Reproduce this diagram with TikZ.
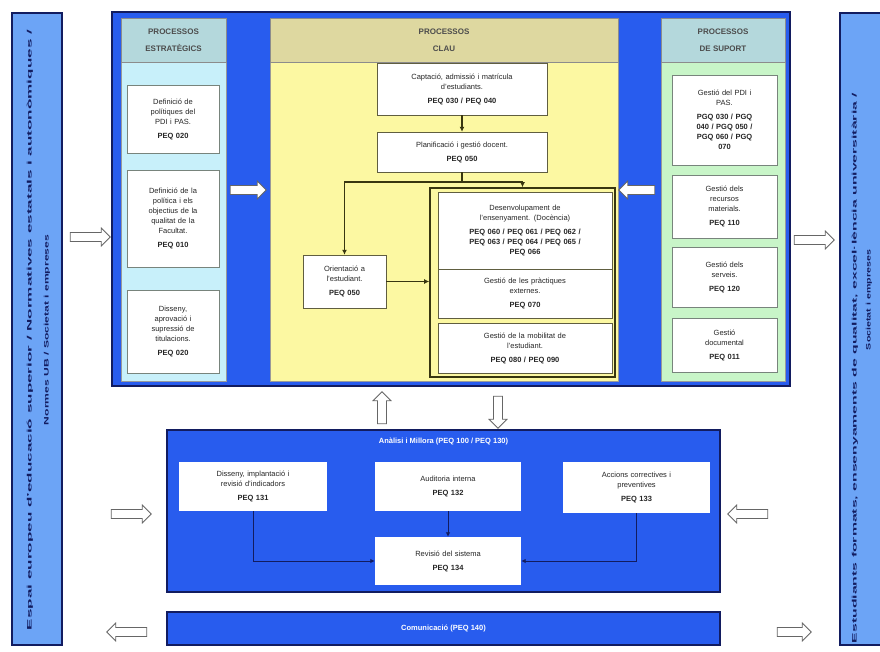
\documentclass[tikz,border=0pt]{standalone}
\usepackage{fontspec}
\setmainfont{Liberation Sans}
\usepackage{graphicx}
\usetikzlibrary{arrows.meta,positioning,shapes.arrows,calc}

\definecolor{mainblue}{RGB}{40,92,238}
\definecolor{navy}{RGB}{18,28,96}
\definecolor{sideblue}{RGB}{108,164,246}
\definecolor{estrbg}{RGB}{200,240,250}
\definecolor{hdrbg}{RGB}{180,216,220}
\definecolor{claubg}{RGB}{252,248,162}
\definecolor{clauhdr}{RGB}{222,216,160}
\definecolor{suportbg}{RGB}{200,245,200}
\definecolor{boxgray}{RGB}{120,132,124}
\definecolor{olive}{RGB}{56,54,16}

\begin{document}
\begin{tikzpicture}[x=1pt,y=-1pt,
panel/.style={draw=navy,line width=1.2pt,inner sep=0pt},
colbg/.style={draw=black!40,inner sep=0pt},
colhdr/.style={draw=black!45,font=\fontsize{8}{17}\selectfont\bfseries,text=black!70,align=center,inner sep=0pt},
item/.style={draw=boxgray,fill=white,align=center,font=\fontsize{7.5}{10}\selectfont,inner sep=1pt,text=black!85},
claubox/.style={item,draw=olive!80},
millbox/.style={item,draw=none},
cline/.style={draw=olive,line width=1.5pt,-{Latex[length=5pt,width=5pt]}},
bline/.style={draw=navy,line width=0.8pt,-{Latex[length=4.5pt,width=4.5pt]}},
flow/.style={single arrow,draw=black!60,fill=white,line width=0.8pt,minimum height=36pt,minimum width=18pt,single arrow head extend=4.5pt,single arrow head indent=0pt,inner sep=4pt},
sidetxt/.style={font=\fontsize{6.5}{8}\selectfont\bfseries,text=navy,rotate=90,inner sep=0pt}
]
\useasboundingbox (0,0) rectangle (880,652);
\clip (0,0) rectangle (880,652);
\fill[white] (0,0) rectangle (880,652);

% side bars
\node[panel,fill=sideblue,minimum width=50pt,minimum height=632pt] (entrada) at (37,329) {};
\node[sidetxt] (entrada1) at (30,330) {\resizebox{600pt}{\height}{Espai europeu d'educació superior / Normatives estatals i autonòmiques /}};
\node[sidetxt] (entrada2) at (47,330) {\resizebox{190pt}{\height}{Normes UB / Societat i empreses}};
\node[panel,fill=sideblue,minimum width=52pt,minimum height=632pt] (sortida) at (866,329) {};
\node[sidetxt] (sortida1) at (855,368) {\resizebox{550pt}{\height}{Estudiants formats, ensenyaments de qualitat, excel·lència universitària /}};
\node[sidetxt] (sortida2) at (869,300) {\resizebox{100pt}{\height}{Societat i empreses}};

% upper panel
\node[panel,fill=mainblue,minimum width=678pt,minimum height=374pt] (mapa) at (451,199) {};

% processos estrategics
\node[colbg,fill=estrbg,minimum width=105pt,minimum height=363pt] (estr) at (173.5,199.5) {};
\node[colhdr,fill=hdrbg,minimum width=105pt,minimum height=44pt] (estrh) at (173.5,40) {PROCESSOS\\ESTRATÈGICS};
\node[item,minimum width=92pt,minimum height=68pt,text width=88pt] (politiques) at (173,119) {Definició de\\polítiques del\\PDI i PAS.\\[4pt]\textbf{PEQ 020}};
\node[item,minimum width=92pt,minimum height=97pt,text width=88pt] (qualitat) at (173,218.5) {Definició de la\\política i els\\objectius de la\\qualitat de la\\Facultat.\\[4pt]\textbf{PEQ 010}};
\node[item,minimum width=92pt,minimum height=83pt,text width=88pt] (titulacions) at (173,331.5) {Disseny,\\aprovació i\\supressió de\\titulacions.\\[4pt]\textbf{PEQ 020}};

% processos clau
\node[colbg,fill=claubg,minimum width=348pt,minimum height=363pt] (clau) at (444,199.5) {};
\node[colhdr,fill=clauhdr,minimum width=348pt,minimum height=44pt] (clauh) at (444,40) {PROCESSOS\\CLAU};
\node[claubox,minimum width=170pt,minimum height=52pt,text width=164pt] (captacio) at (462,89) {Captació, admissió i matrícula\\d'estudiants.\\[4pt]\textbf{PEQ 030 / PEQ 040}};
\node[claubox,minimum width=170pt,minimum height=40pt,text width=164pt] (planif) at (462,152) {Planificació i gestió docent.\\[4pt]\textbf{PEQ 050}};
\node[claubox,minimum width=83pt,minimum height=53pt,text width=79pt] (orient) at (344.5,281.5) {Orientació a\\l'estudiant.\\[4pt]\textbf{PEQ 050}};
\node[draw=olive,line width=1.6pt,inner sep=0pt,minimum width=185pt,minimum height=189pt] (grup) at (522.5,282.5) {};
\node[claubox,minimum width=174pt,minimum height=77pt,text width=170pt] (desenv) at (525,230.5) {Desenvolupament de\\l'ensenyament. (Docència)\\[4pt]\textbf{PEQ 060 / PEQ 061 / PEQ 062 /}\\\textbf{PEQ 063 / PEQ 064 / PEQ 065 /}\\\textbf{PEQ 066}};
\node[claubox,minimum width=174pt,minimum height=49pt,text width=170pt] (practiques) at (525,293.5) {Gestió de les pràctiques\\externes.\\[4pt]\textbf{PEQ 070}};
\node[claubox,minimum width=174pt,minimum height=50pt,text width=170pt] (mobilitat) at (525,348) {Gestió de la mobilitat de\\l'estudiant.\\[4pt]\textbf{PEQ 080 / PEQ 090}};
\draw[cline] (captacio) -- (planif);
\draw[cline] (planif.south) -- ++(0,10) -| (orient.north);
\draw[cline] (planif.south) -- ++(0,10) -| (grup.north);
\draw[cline] (orient.east) -- (orient.east -| grup.west);

% processos de suport
\node[colbg,fill=suportbg,minimum width=124pt,minimum height=363pt] (suport) at (723,199.5) {};
\node[colhdr,fill=hdrbg,minimum width=124pt,minimum height=44pt] (suporth) at (723,40) {PROCESSOS\\DE SUPORT};
\node[item,minimum width=105pt,minimum height=90pt,text width=101pt] (personal) at (724.5,120) {Gestió del PDI i\\PAS.\\[4pt]\textbf{PGQ 030 / PGQ}\\\textbf{040 / PGQ 050 /}\\\textbf{PGQ 060 / PGQ}\\\textbf{070}};
\node[item,minimum width=105pt,minimum height=63pt,text width=101pt] (recursos) at (724.5,206.5) {Gestió dels\\recursos\\materials.\\[4pt]\textbf{PEQ 110}};
\node[item,minimum width=105pt,minimum height=60pt,text width=101pt] (serveis) at (724.5,277) {Gestió dels\\serveis.\\[4pt]\textbf{PEQ 120}};
\node[item,minimum width=105pt,minimum height=54pt,text width=101pt] (documental) at (724.5,345) {Gestió\\documental\\[4pt]\textbf{PEQ 011}};

% fletxes
\node[flow] (fe1) at (246,190) {};
\node[flow,shape border rotate=180] (fs1) at (639,190) {};
\node[flow,minimum height=40pt] (fin1) at (88,237) {};
\node[flow,minimum height=40pt] (fin2) at (129,514) {};
\node[flow,minimum height=40pt,shape border rotate=180] (fin3) at (129,632) {};
\node[flow,minimum height=40pt] (fout1) at (812,240) {};
\node[flow,minimum height=40pt,shape border rotate=180] (fout2) at (750,514) {};
\node[flow,minimum height=34pt] (fout3) at (792,632) {};
\node[flow,minimum height=32pt,shape border rotate=90] (fup) at (382,410) {};
\node[flow,minimum height=32pt,shape border rotate=270] (fdown) at (498,410) {};

% analisi i millora
\node[panel,fill=mainblue,minimum width=553pt,minimum height=162pt] (millora) at (443.5,511) {};
\node[font=\fontsize{7.5}{9}\selectfont\bfseries,text=white] (milloratit) at (443.5,442) {Anàlisi i Millora (PEQ 100 / PEQ 130)};
\node[millbox,minimum width=148pt,minimum height=49pt,text width=144pt] (indicadors) at (253,486.5) {Disseny, implantació i\\revisió d'indicadors\\[4pt]\textbf{PEQ 131}};
\node[millbox,minimum width=146pt,minimum height=49pt,text width=142pt] (auditoria) at (448,486.5) {Auditoria interna\\[4pt]\textbf{PEQ 132}};
\node[millbox,minimum width=147pt,minimum height=51pt,text width=143pt] (accions) at (636.5,487.5) {Accions correctives i\\preventives\\[4pt]\textbf{PEQ 133}};
\node[millbox,minimum width=146pt,minimum height=48pt,text width=142pt] (revisio) at (448,561) {Revisió del sistema\\[4pt]\textbf{PEQ 134}};
\draw[bline] (indicadors.south) |- (revisio.west);
\draw[bline] (auditoria) -- (revisio);
\draw[bline] (accions.south) |- (revisio.east);

% comunicacio
\node[panel,fill=mainblue,minimum width=553pt,minimum height=33pt,font=\fontsize{7.5}{9}\selectfont\bfseries,text=white] (comunicacio) at (443.5,628.5) {Comunicació (PEQ 140)};
\end{tikzpicture}
\end{document}
